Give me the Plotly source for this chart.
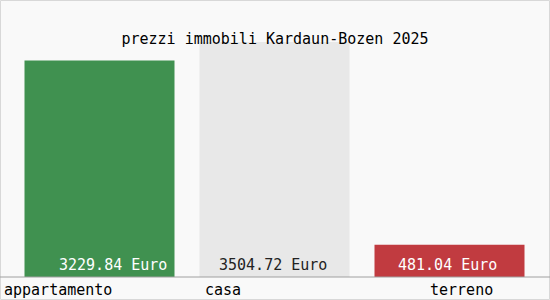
import plotly.graph_objects as go

categories = ["appartamento", "casa", "terreno"]
values = [3229.84, 3504.72, 481.04]
value_labels = ["3229.84 Euro", "3504.72 Euro", "481.04 Euro"]
bar_colors = ["#409150", "#e8e8e8", "#c13b40"]
text_colors = ["#ffffff", "#222222", "#ffffff"]
label_shifts = [-98, -72, -22]
value_shifts = [13, -2, -2]

W, H = 550, 300
ml, mr, mt, mb = 12, 13, 42, 23
pw = W - ml - mr
ph = H - mt - mb
FONT = "DejaVu Sans Mono"

fig = go.Figure()
fig.add_trace(go.Bar(
    x=[0, 1, 2], y=values,
    width=150 / 175,
    marker=dict(color=bar_colors, line=dict(width=0)),
    cliponaxis=False,
    hoverinfo="skip",
))

annotations = []
for i, (c, s) in enumerate(zip(categories, label_shifts)):
    annotations.append(dict(
        x=i, xref="x", y=0, yref="paper", yanchor="top", yshift=-2,
        xanchor="left", xshift=s, text=c, showarrow=False,
        font=dict(family=FONT, size=15, color="#000000"),
    ))
for i, (t, s, col) in enumerate(zip(value_labels, value_shifts, text_colors)):
    annotations.append(dict(
        x=i, xref="x", y=0, yref="y", yanchor="bottom", yshift=1,
        xanchor="center", xshift=s, text=t, showarrow=False,
        font=dict(family=FONT, size=15, color=col),
    ))

shapes = [
    dict(type="line", xref="paper", yref="paper",
         x0=-ml / pw, x1=1 + mr / pw, y0=0, y1=0,
         line=dict(color="#a0a0a0", width=1)),
    dict(type="rect", xref="paper", yref="paper",
         x0=(-ml + 0.5) / pw, x1=1 + (mr - 0.5) / pw,
         y0=(-mb + 0.5) / ph, y1=1 + (mt - 0.5) / ph,
         line=dict(color="#d8d8d8", width=1), layer="below"),
]

fig.update_layout(
    width=W, height=H,
    margin=dict(l=ml, r=mr, t=mt, b=mb, pad=0, autoexpand=False),
    paper_bgcolor="#f9f9f9", plot_bgcolor="#f9f9f9",
    showlegend=False,
    title=dict(text="prezzi immobili Kardaun-Bozen 2025", x=0.5, xanchor="center",
               y=1 - 39 / H, yanchor="middle", yref="container",
               font=dict(family=FONT, size=15, color="#000000")),
    xaxis=dict(range=[-0.5, 2.5], autorange=False, showticklabels=False, showgrid=False,
               zeroline=False, showline=False, ticks=""),
    yaxis=dict(range=[0, max(values)], autorange=False, showticklabels=False, showgrid=False,
               zeroline=False, showline=False, ticks=""),
    annotations=annotations,
    shapes=shapes,
)

fig.write_html("out.html")
